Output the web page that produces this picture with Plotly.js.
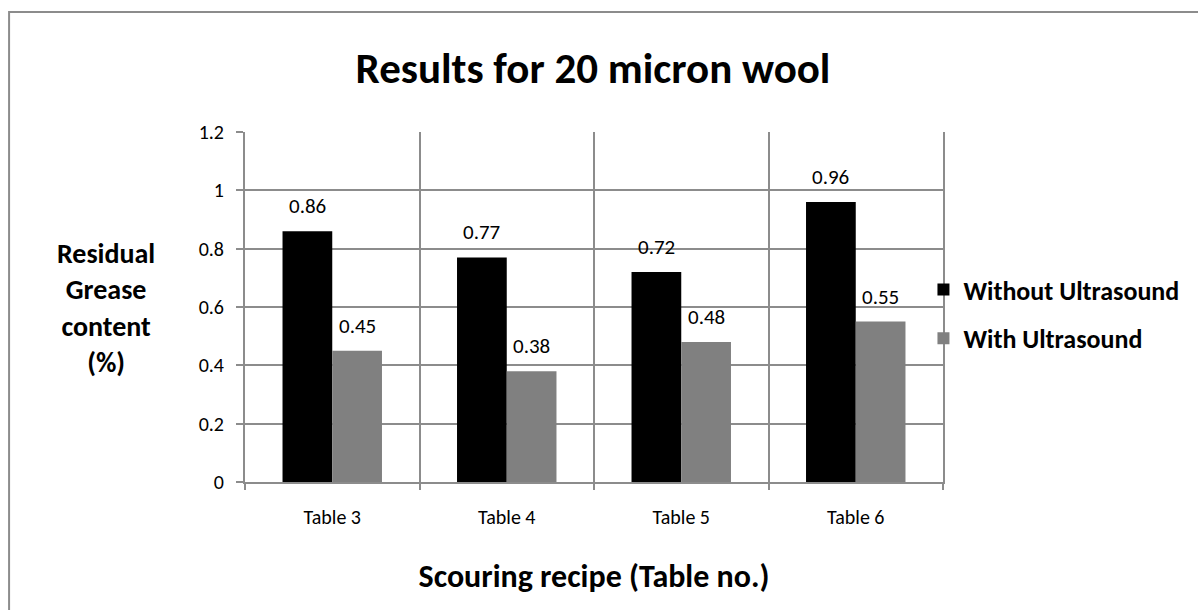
<!DOCTYPE html>
<html>
<head>
<meta charset="utf-8">
<script src="https://cdn.plot.ly/plotly-3.0.1.min.js"></script>
<style>html,body{margin:0;padding:0;background:#fff;}#chart{width:1198px;height:610px;}</style>
</head>
<body>
<div id="chart"></div>
<script>
var categories = ["Table 3", "Table 4", "Table 5", "Table 6"];
var withoutUltrasound = [0.86, 0.77, 0.72, 0.96];
var withUltrasound = [0.45, 0.38, 0.48, 0.55];
var seriesNames = ["Without Ultrasound", "With Ultrasound"];
var yTicks = [0, 0.2, 0.4, 0.6, 0.8, 1, 1.2];
var yTickText = ["0", "0.2", "0.4", "0.6", "0.8", "1", "1.2"];

var FONT = "Carlito, Calibri, Lato, 'Open Sans', sans-serif";
var xIdx = categories.map(function(_, i){ return i; });
var boundaries = [];
for (var i = 0; i <= categories.length; i++) boundaries.push(i - 0.5);

var traces = [
  {type: "bar", x: xIdx, y: withoutUltrasound, name: seriesNames[0],
   marker: {color: "#000000"}, legendgroup: "a", xaxis: "x", yaxis: "y"},
  {type: "bar", x: xIdx, y: withUltrasound, name: seriesNames[1],
   marker: {color: "#808080"}, legendgroup: "b", xaxis: "x", yaxis: "y"},
  {type: "scatter", x: boundaries, y: boundaries.map(function(){return 0;}),
   xaxis: "x2", yaxis: "y", mode: "none", showlegend: false, hoverinfo: "skip"}
];

var annotations = [];
var offsets = [-0.143, 0.143];
[withoutUltrasound, withUltrasound].forEach(function(arr, s){
  arr.forEach(function(v, i){
    annotations.push({x: i + offsets[s], y: v, xref: "x", yref: "y",
      text: String(v), showarrow: false, yshift: 25, yanchor: "middle",
      font: {family: FONT, size: 21, color: "#000"}});
  });
});
annotations.push({xref: "paper", yref: "paper", x: -0.199, y: 0.497,
  text: "<b>Residual<br>Grease<br>content<br>(%)</b>", showarrow: false,
  align: "center", xanchor: "center", yanchor: "middle",
  font: {family: FONT, size: 28, color: "#000"}});

var layout = {
  width: 1198, height: 610,
  margin: {l: 245, r: 255, t: 132, b: 128},
  paper_bgcolor: "#fff", plot_bgcolor: "#fff",
  font: {family: FONT, color: "#000"},
  title: {text: "<b>Results for 20 micron wool</b>", x: 0.495, xanchor: "center",
    y: 0.888, yanchor: "middle", font: {family: FONT, size: 43, color: "#000"}},
  barmode: "group", bargap: 0.43, bargroupgap: 0,
  xaxis: {range: [-0.5, 3.5], tickvals: xIdx, ticktext: categories,
    showgrid: false, zeroline: false, showline: false, ticks: "",
    tickfont: {family: FONT, size: 20, color: "#000"}, ticklabelstandoff: 21,
    title: {text: "<b>Scouring recipe (Table no.)</b>", standoff: 36,
      font: {family: FONT, size: 32, color: "#000"}}},
  xaxis2: {overlaying: "x", range: [-0.5, 3.5], tickvals: boundaries,
    showticklabels: false, showgrid: true, gridcolor: "#8c8c8c", gridwidth: 2,
    ticks: "outside", ticklen: 6, tickcolor: "#8c8c8c", tickwidth: 2,
    zeroline: false, showline: true, linecolor: "#8c8c8c", linewidth: 2, anchor: "y"},
  yaxis: {range: [0, 1.2], tickvals: yTicks, ticktext: yTickText,
    showgrid: true, gridcolor: "#8c8c8c", gridwidth: 2, zeroline: false,
    showline: true, linecolor: "#8c8c8c", linewidth: 2, mirror: true,
    ticks: "outside", ticklen: 7, tickcolor: "#8c8c8c", tickwidth: 2,
    ticklabelstandoff: 8,
    tickfont: {family: FONT, size: 20, color: "#000"}},
  legend: {x: 0.972, xanchor: "left", y: 0.48, yanchor: "middle",
    bgcolor: "rgba(0,0,0,0)", traceorder: "grouped", tracegroupgap: 12,
    font: {family: FONT, size: 26, color: "#000", weight: "bold"}},
  annotations: annotations,
  shapes: [{type: "rect", xref: "paper", yref: "paper", layer: "below",
    x0: -0.338, x1: 1.5, y0: -0.5, y1: 1.3429,
    line: {color: "#8c8c8c", width: 2}, fillcolor: "rgba(0,0,0,0)"}]
};

Plotly.newPlot("chart", traces, layout, {displayModeBar: false, staticPlot: true});
</script>
</body>
</html>
